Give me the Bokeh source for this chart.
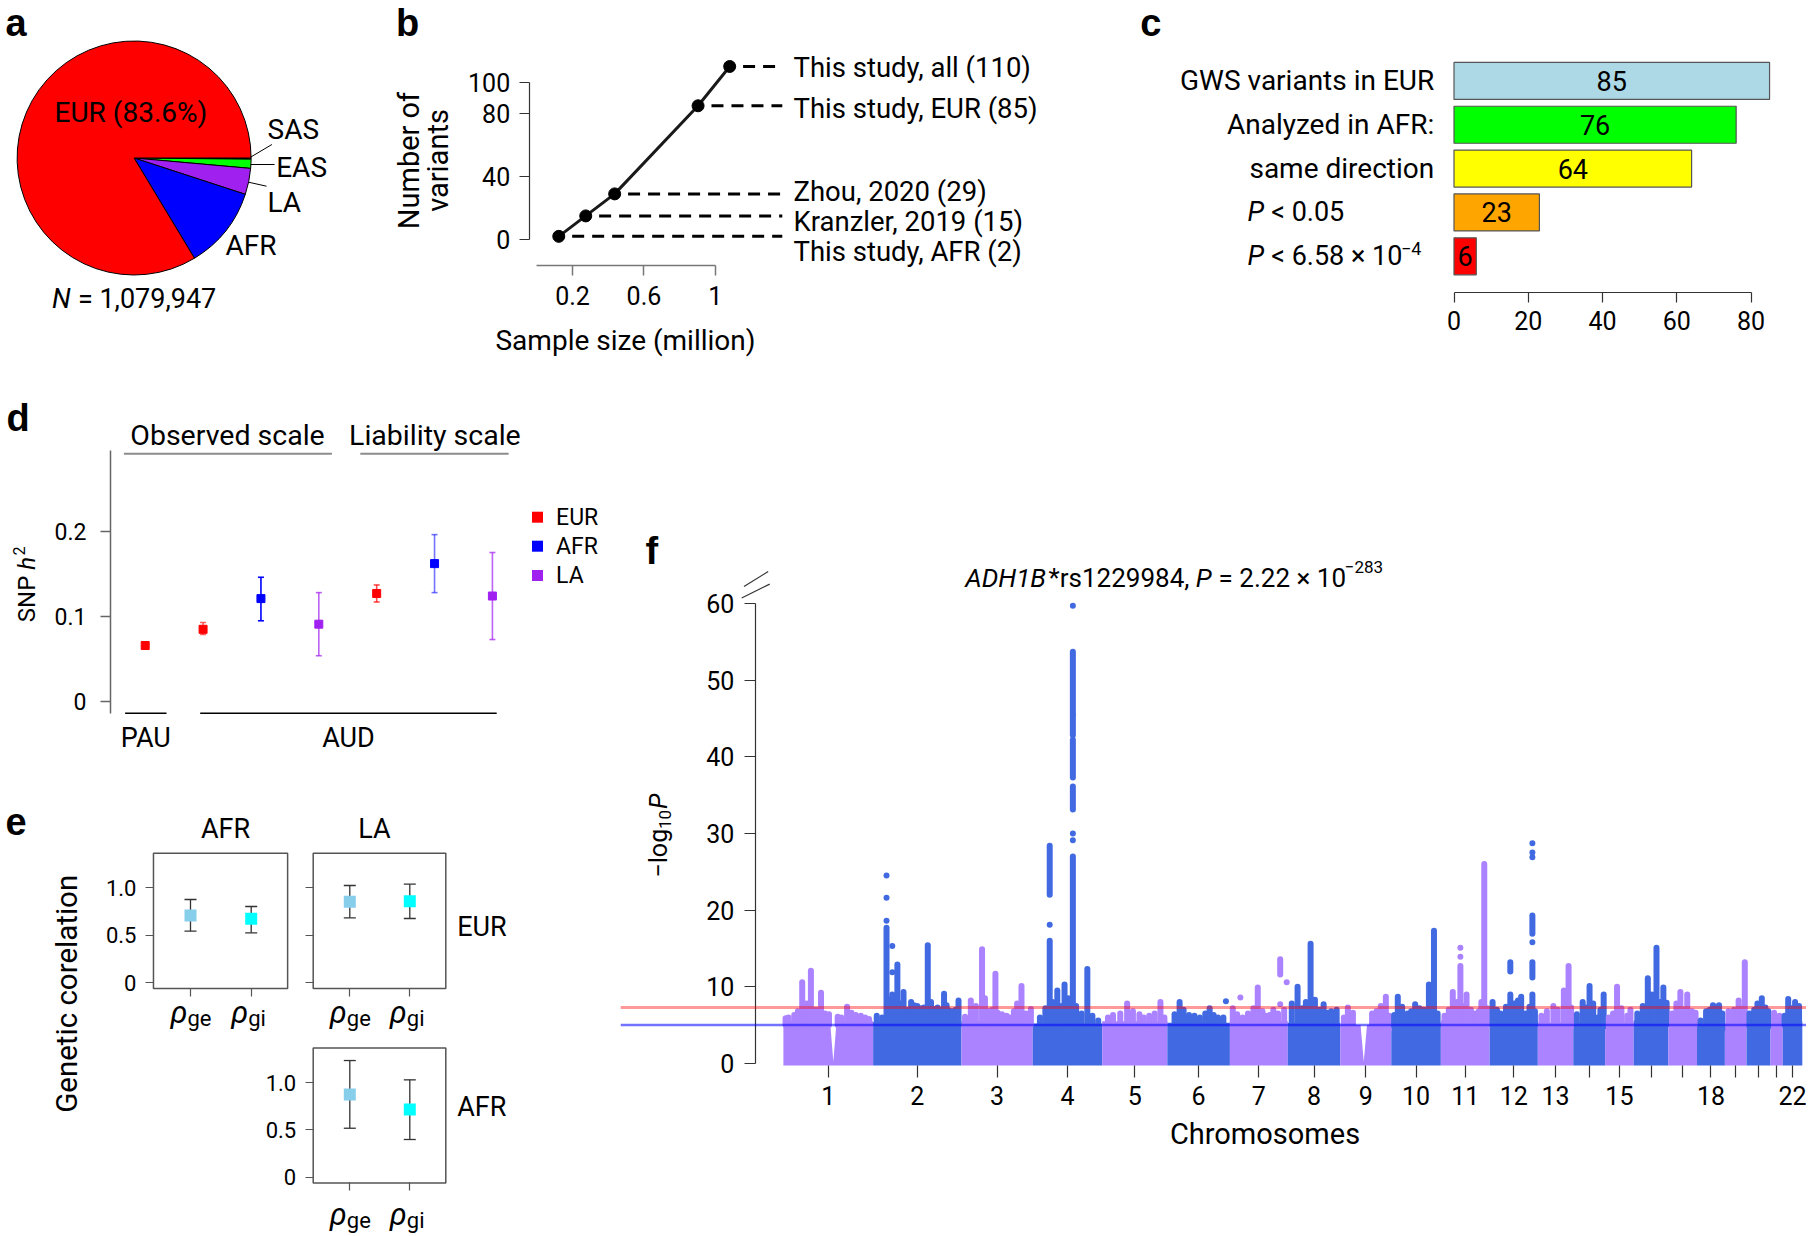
import numpy as np
from bokeh.plotting import figure
from bokeh.models import Range1d, FixedTicker, LinearAxis, Span
from bokeh.layouts import row, column
from bokeh.embed import file_html
from bokeh.resources import INLINE
from bokeh.core.properties import value

FONT = "Roboto"
LFONT = "Liberation Sans"

# ======================= DATA =======================
# (a) sample composition
pie_groups = ["SAS", "EAS", "LA", "AFR", "EUR"]
pie_n = [1716, 13551, 38962, 122571, 903147]
pie_colors = ["#000000", "#00FF00", "#A020F0", "#0000FF", "#FF0000"]

# (b) number of variants vs sample size
b_sample_million = [0.123, 0.274, 0.436, 0.903, 1.080]
b_variants = [2, 15, 29, 85, 110]
b_labels = ["This study, AFR (2)", "Kranzler, 2019 (15)", "Zhou, 2020 (29)",
            "This study, EUR (85)", "This study, all (110)"]
b_xticks = [0.2, 0.6, 1]
b_yticks = [0, 40, 80, 100]

# (c) replication of EUR variants in AFR
c_labels = ["GWS variants in EUR", "Analyzed in AFR:", "same direction"]
c_p_labels = ["< 0.05", "< 6.58 × 10"]
c_p_exponents = ["", "−4"]
c_counts = [85, 76, 64, 23, 6]
c_colors = ["#ADD8E6", "#00FF00", "#FFFF00", "#FFA500", "#FF0000"]
c_xticks = [0, 20, 40, 60, 80]

# (d) SNP heritability
d_trait = ["PAU", "AUD", "AUD", "AUD", "AUD", "AUD", "AUD"]
d_ancestry = ["EUR", "EUR", "AFR", "LA", "EUR", "AFR", "LA"]
d_h2 = [0.066, 0.085, 0.121, 0.091, 0.127, 0.162, 0.124]
d_lo = [0.063, 0.079, 0.095, 0.054, 0.117, 0.128, 0.073]
d_hi = [0.069, 0.093, 0.146, 0.128, 0.137, 0.196, 0.175]
d_yticks = [0, 0.1, 0.2]
anc_colors = {"EUR": "#FF0000", "AFR": "#0000FF", "LA": "#A020F0"}

# (e) genetic correlations (subplots: AFR-EUR, LA-EUR, LA-AFR)
e_pairs = [("AFR", "EUR"), ("LA", "EUR"), ("LA", "AFR")]
e_params = ["ge", "gi"]
e_rg = [[0.708, 0.674], [0.852, 0.859], [0.873, 0.715]]
e_lo = [[0.543, 0.526], [0.684, 0.677], [0.517, 0.398]]
e_hi = [[0.877, 0.803], [1.024, 1.038], [1.232, 1.028]]
e_yticks = [0, 0.5, 1.0]

# (f) Manhattan plot (chromosome spans in Mb, background level, peaks)
chrom_len = [248, 244, 197, 192, 180, 173, 160, 145, 141, 137, 135, 133,
             98, 88, 79, 96, 79, 77, 60, 66, 34, 54]
chrom_floor = [5.5, 5.4, 5.5, 5.2, 5.5, 5.3, 5.5, 5.3, 5.0, 5.3, 5.6,
               5.5, 5.3, 5.3, 5.3, 5.6, 5.6, 5.0, 5.2, 5.3, 5.0, 5.5]
chrom_tick_labels = ["1", "2", "3", "4", "5", "6", "7", "8", "9", "10", "11", "12",
                     "13", "", "15", "", "", "18", "", "", "", "22"]
# dense columns of SNPs: (chromosome, position Mb, top -log10P)
f_columns = [
    (1, 6, 5.9), (1, 14, 6.0), (1, 30, 6.3), (1, 40, 6.8), (1, 52, 10.6), (1, 64, 7.8),
    (1, 76, 12.1), (1, 90, 7.0), (1, 104, 9.2), (1, 115, 6.5), (1, 126, 6.4), (1, 150, 6.1),
    (1, 160, 6.0), (1, 176, 7.4), (1, 188, 6.6), (1, 200, 6.3), (1, 214, 6.2), (1, 226, 6.0),
    (1, 237, 5.8),
    (2, 10, 6.2), (2, 25, 6.0), (2, 37, 17.7), (2, 45, 8.3), (2, 53, 9.0), (2, 67, 12.9),
    (2, 75, 7.8), (2, 84, 9.3), (2, 97, 7.0), (2, 105, 8.0), (2, 113, 7.6), (2, 122, 7.5),
    (2, 130, 7.2), (2, 140, 7.3), (2, 151, 15.4), (2, 160, 8.0), (2, 172, 7.1), (2, 178, 7.3),
    (2, 185, 7.0), (2, 196, 9.1), (2, 203, 7.6), (2, 210, 6.9), (2, 220, 6.8), (2, 228, 7.0),
    (2, 236, 8.2),
    (3, 10, 6.1), (3, 26, 8.2), (3, 40, 7.5), (3, 57, 14.9), (3, 65, 8.5), (3, 75, 6.8),
    (3, 85, 7.0), (3, 94, 11.7), (3, 100, 6.6), (3, 112, 6.4), (3, 125, 6.2), (3, 135, 6.0),
    (3, 145, 6.8), (3, 154, 7.8), (3, 166, 10.1), (3, 178, 6.5), (3, 192, 7.1),
    (4, 20, 6.0), (4, 35, 7.2), (4, 47, 16.0), (4, 55, 8.0), (4, 68, 9.5), (4, 78, 7.5),
    (4, 88, 10.3), (4, 98, 8.5), (4, 111, 27.0), (4, 120, 7.5), (4, 135, 6.5), (4, 151, 12.3),
    (4, 165, 6.2), (4, 181, 5.6),
    (5, 16, 6.0), (5, 30, 6.3), (5, 50, 6.5), (5, 69, 7.8), (5, 85, 6.8), (5, 103, 6.4),
    (5, 115, 6.0), (5, 130, 6.2), (5, 145, 6.5), (5, 161, 8.0), (5, 172, 6.0),
    (6, 20, 6.4), (6, 34, 8.0), (6, 45, 7.0), (6, 60, 6.3), (6, 75, 6.2), (6, 90, 6.0),
    (6, 105, 6.5), (6, 117, 7.2), (6, 128, 6.3), (6, 140, 6.0), (6, 155, 6.0),
    (7, 8, 7.2), (7, 20, 6.4), (7, 35, 6.0), (7, 50, 6.5), (7, 65, 7.2), (7, 77, 9.9),
    (7, 90, 6.8), (7, 100, 6.2), (7, 110, 6.3), (7, 120, 7.0), (7, 133, 6.5), (7, 150, 7.0),
    (8, 11, 7.8), (8, 27, 10.0), (8, 40, 7.2), (8, 50, 8.0), (8, 63, 15.6), (8, 75, 8.3),
    (8, 88, 7.0), (8, 99, 7.7), (8, 110, 6.6), (8, 120, 6.8), (8, 135, 7.0),
    (9, 10, 6.0), (9, 21, 7.3), (9, 35, 6.6), (9, 88, 6.5), (9, 100, 6.8), (9, 112, 7.5),
    (9, 126, 8.7), (9, 135, 6.2),
    (10, 8, 6.3), (10, 18, 8.7), (10, 30, 7.4), (10, 45, 6.5), (10, 55, 6.8), (10, 66, 7.7),
    (10, 78, 7.2), (10, 90, 7.0), (10, 104, 10.3), (10, 110, 8.0), (10, 118, 17.3),
    (10, 128, 6.5),
    (11, 10, 6.2), (11, 22, 7.0), (11, 33, 9.3), (11, 45, 8.0), (11, 54, 12.7), (11, 62, 7.5),
    (11, 71, 9.0), (11, 83, 7.0), (11, 95, 6.5), (11, 105, 6.8), (11, 112, 8.0),
    (11, 120, 26.0), (11, 128, 7.2),
    (12, 8, 8.0), (12, 20, 7.0), (12, 30, 6.5), (12, 45, 7.4), (12, 57, 9.0), (12, 68, 7.8),
    (12, 78, 8.2), (12, 87, 8.7), (12, 100, 6.5), (12, 110, 7.4), (12, 118, 7.0),
    (12, 125, 6.8),
    (13, 10, 6.2), (13, 25, 6.8), (13, 43, 7.5), (13, 55, 7.0), (13, 72, 9.5), (13, 85, 12.7),
    (13, 92, 7.3),
    (14, 10, 6.4), (14, 26, 8.0), (14, 35, 7.3), (14, 45, 10.1), (14, 55, 7.8), (14, 67, 6.0),
    (14, 75, 7.0), (14, 84, 9.0),
    (15, 10, 6.0), (15, 22, 6.5), (15, 33, 10.0), (15, 45, 7.2), (15, 61, 6.2), (15, 70, 7.0),
    (16, 10, 6.5), (16, 25, 7.5), (16, 39, 11.1), (16, 50, 9.0), (16, 63, 15.1), (16, 72, 8.0),
    (16, 82, 9.9), (16, 91, 7.9),
    (17, 10, 6.5), (17, 22, 7.8), (17, 33, 9.3), (17, 42, 7.0), (17, 52, 9.0), (17, 65, 6.8),
    (17, 75, 6.6),
    (18, 10, 5.6), (18, 25, 6.8), (18, 35, 7.0), (18, 44, 7.6), (18, 52, 7.4), (18, 61, 7.6),
    (18, 70, 6.5),
    (19, 10, 6.8), (19, 25, 7.0), (19, 38, 8.2), (19, 48, 7.2), (19, 55, 13.2),
    (20, 8, 6.5), (20, 21, 7.0), (20, 30, 7.8), (20, 42, 8.5), (20, 52, 7.3), (20, 60, 6.8),
    (21, 10, 6.6), (21, 18, 6.0), (21, 25, 6.2),
    (22, 5, 6.2), (22, 15, 8.4), (22, 25, 7.2), (22, 34, 8.0), (22, 45, 7.5),
]
# floating dense runs: (chromosome, position Mb, low, high)
f_runs = [
    (4, 47, 22.0, 28.4), (4, 111, 33.1, 36.1), (4, 111, 37.3, 42.2), (4, 111, 42.8, 45.4),
    (4, 111, 45.6, 53.7), (7, 139, 11.6, 13.6), (12, 57, 12.0, 13.2), (12, 118, 16.9, 19.3),
    (12, 118, 11.2, 13.2), (12, 118, 7.3, 9.0),
]
# isolated points: (chromosome, position Mb, -log10P)
f_dots = [
    (2, 37, 18.6), (2, 37, 21.6), (2, 37, 24.5), (2, 53, 11.9), (2, 53, 15.3),
    (4, 47, 18.1), (4, 111, 29.1), (4, 111, 30.0), (4, 111, 59.7),
    (6, 162, 8.1), (7, 29, 8.6), (7, 157, 10.6), (7, 139, 7.7), (10, 104, 9.0),
    (11, 54, 13.9), (11, 54, 15.1), (12, 118, 15.8), (12, 118, 26.9), (12, 118, 27.5),
    (12, 118, 28.7),
]
# gaps (centromere dips): (chromosome, position Mb)
f_gaps = [(1, 138), (9, 65)]
f_yticks = [0, 10, 20, 30, 40, 50, 60]
gws_threshold = 5e-8
suggestive_threshold = 1e-5
PURPLE, BLUE = "#AB82FF", "#4169E1"


# ======================= HELPERS =======================
class Map:
    """Linear map from page pixels to data units for a figure covering a page box."""
    def __init__(s, px, py, w, h, x0=0.0, xp=1.0, y0=0.0, yp=1.0):
        s.px, s.py, s.w, s.h = px, py, w, h
        s.x0, s.xp, s.y0, s.yp = x0, xp, y0, yp

    def X(s, gx):
        return (gx - s.x0) / s.xp

    def Y(s, gy):
        return (s.y0 - gy) / s.yp

    def xr(s):
        return Range1d(s.X(s.px), s.X(s.px + s.w))

    def yr(s):
        return Range1d(s.Y(s.py + s.h), s.Y(s.py))


def make_fig(M):
    p = figure(width=M.w, height=M.h, x_range=M.xr(), y_range=M.yr(), title=None,
               x_axis_type=None, y_axis_type=None, output_backend="svg",
               toolbar_location=None, min_border_left=0, min_border_right=0,
               min_border_top=0, min_border_bottom=0)
    p.outline_line_color = None
    p.background_fill_color = "white"
    p.border_fill_color = "white"
    return p


RW = {" ": 0.248, "*": 0.431, ",": 0.196, ".": 0.263, "=": 0.549, "×": 0.444, "<": 0.508,
      "−": 0.568, "A": 0.652, "B": 0.622, "D": 0.656, "H": 0.713, "P": 0.631, "N": 0.713,
      "S": 0.594, "r": 0.338, "s": 0.516, "l": 0.242, "o": 0.569, "g": 0.56, "h": 0.551}


def tw(s, size):
    """approximate rendered width (px) of a string in Roboto"""
    return size * sum(RW.get(c, 0.562 if c.isdigit() else 0.55) for c in s)


def txt(p, x, y, t, size=28, align="left", baseline="middle", style="normal", angle=0.0,
        font=FONT, color="black", **kw):
    p.text(x=x, y=y, text=t, text_font=value(font), text_font_size=f"{size}px",
           text_align=align, text_baseline=baseline, text_font_style=style, angle=angle,
           text_color=color, **kw)


LETTER_RAISE = 11


def letter(p, M, gx, gy, t):
    txt(p, [M.X(gx)], [M.Y(gy - LETTER_RAISE)], [t], size=38, baseline="alphabetic",
        style="bold", font=LFONT)


def add_axis(p, side, ticks, loc, bounds=None, overrides=None, size=25, tick_out=10,
             standoff=9, line_color="#333333", line_w=1.2, show_line=True, **names):
    ax = LinearAxis(ticker=FixedTicker(ticks=ticks), fixed_location=loc, **names)
    if bounds is not None:
        ax.bounds = bounds
    if overrides is not None:
        ax.major_label_overrides = overrides
    ax.major_tick_out = tick_out
    ax.major_tick_in = 0
    ax.minor_tick_out = 0
    ax.minor_tick_in = 0
    ax.major_label_standoff = standoff
    ax.major_label_text_font = FONT
    ax.major_label_text_font_size = f"{size}px"
    ax.major_label_text_color = "black"
    ax.axis_line_color = line_color if show_line else None
    ax.major_tick_line_color = line_color
    ax.axis_line_width = line_w
    ax.major_tick_line_width = line_w
    p.add_layout(ax, side)
    return ax


# ======================= (a) =======================
Fa = Map(0, 0, 380, 370)
pa = make_fig(Fa)
frac = np.array(pie_n, float) / sum(pie_n)
cum = np.cumsum(frac)
pa.wedge(x=Fa.X(133.6), y=Fa.Y(157.5), radius=117,
         start_angle=list(-2 * np.pi * cum), end_angle=list(-2 * np.pi * (cum - frac)),
         direction="anticlock", fill_color=pie_colors, line_color="black", line_width=1)
eur_pct = 100 * pie_n[4] / sum(pie_n)
txt(pa, [Fa.X(130.4)], [Fa.Y(111.7)], [f"EUR ({eur_pct:.1f}%)"], align="center")
side_pos = {"SAS": (267, 129), "EAS": (275.7, 166.7), "LA": (267, 201.7), "AFR": (225, 245)}
txt(pa, [Fa.X(side_pos[g][0]) for g in pie_groups[:4]],
    [Fa.Y(side_pos[g][1]) for g in pie_groups[:4]], pie_groups[:4])
pa.segment(x0=[Fa.X(250), Fa.X(250), Fa.X(248)], y0=[Fa.Y(156.7), Fa.Y(164), Fa.Y(181.7)],
           x1=[Fa.X(271.4), Fa.X(274), Fa.X(266)], y1=[Fa.Y(144), Fa.Y(164), Fa.Y(185.7)],
           line_color="black", line_width=1)
n_rest = f"= {sum(pie_n):,}"
n_w = tw("N " + n_rest, 27)
n_left = 133.6 - n_w / 2
txt(pa, [Fa.X(n_left)], [Fa.Y(298)], ["N"], size=27, style="italic")
txt(pa, [Fa.X(n_left + tw("N ", 27))], [Fa.Y(298)], [n_rest], size=27)
letter(pa, Fa, 5, 33, "a")

# ======================= (b) =======================
Fb = Map(380, 0, 730, 370, 536.3, 178.6, 239, 1.573)
pb = make_fig(Fb)
add_axis(pb, "left", b_yticks, Fb.X(528.7), bounds=(0, 100), size=25, tick_out=10, standoff=9)
add_axis(pb, "below", b_xticks, Fb.Y(265), bounds=(0, 1), size=25, tick_out=10, standoff=10,
         overrides={0.2: "0.2", 0.6: "0.6", 1: "1"}, line_color="#777777", line_w=1.5)
pb.line(b_sample_million, b_variants, line_color="#1a1a1a", line_width=3)
pb.scatter(b_sample_million, b_variants, size=12, color="black")
dash_end = Fb.X(781.8)
pb.segment(x0=[s + 0.075 for s in b_sample_million], y0=b_variants,
           x1=[dash_end] * 5, y1=b_variants, line_color="black", line_width=3, line_dash="12 8")
b_label_shift_px = [15, 6, -2, 3, 1]   # screen px downward, avoids overlapping labels
txt(pb, [Fb.X(793)] * 5, [v - d / Fb.yp for v, d in zip(b_variants, b_label_shift_px)],
    b_labels, size=27.5)
txt(pb, [Fb.X(408), Fb.X(437)], [Fb.Y(160)] * 2, ["Number of", "variants"], size=29,
    align="center", angle=np.pi / 2)
txt(pb, [Fb.X(625)], [Fb.Y(340)], ["Sample size (million)"], align="center")
letter(pb, Fb, 395.6, 33, "b")

# ======================= (c) =======================
Fc = Map(1110, 0, 696, 370, 1453.5, 3.7125, 255.8, 43.85)
pc = make_fig(Fc)
c_y = [4, 3, 2, 1, 0]
pc.hbar(y=c_y, left=0, right=c_counts, height=0.843, fill_color=c_colors,
        line_color="#555555", line_width=1.2)
txt(pc, [v / 2 for v in c_counts], c_y, [str(v) for v in c_counts], size=27, align="center")
txt(pc, [Fc.X(1433.7)] * 3, c_y[:3], c_labels, align="right")
p_x = 1247
txt(pc, [Fc.X(p_x)] * 2, c_y[3:], ["P", "P"], size=27, style="italic")
rest_x = p_x + tw("P ", 27)
txt(pc, [Fc.X(rest_x)] * 2, c_y[3:], c_p_labels, size=27)
txt(pc, [Fc.X(rest_x + tw(c_p_labels[1], 27) + 1)], [Fc.Y(248)], [c_p_exponents[1]], size=18)
add_axis(pc, "below", c_xticks, Fc.Y(291.7), bounds=(0, 80), size=25, tick_out=10, standoff=9)
letter(pc, Fc, 1139.7, 33, "c")

# ======================= (d) =======================
Fd = Map(0, 370, 620, 400, 86.83, 57.87, 701.3, 853)
pd_ = make_fig(Fd)
add_axis(pd_, "left", d_yticks, Fd.X(110), bounds=(Fd.Y(713.3), Fd.Y(450)),
         overrides={0: "0", 0.1: "0.1", 0.2: "0.2"}, size=23, tick_out=10, standoff=14,
         line_color="#666666", line_w=1.5)
d_x = list(range(1, len(d_h2) + 1))
d_cols = [anc_colors[a] for a in d_ancestry]
d_bar_alpha = [0.6, 0.6, 1.0, 0.7, 0.7, 0.55, 0.7]
pd_.segment(x0=d_x, y0=d_lo, x1=d_x, y1=d_hi, line_color=d_cols, line_alpha=d_bar_alpha,
            line_width=1.6)
pd_.scatter(d_x + d_x, d_lo + d_hi, marker="dash", size=6, line_color=d_cols + d_cols,
            line_alpha=d_bar_alpha + d_bar_alpha, line_width=1.6)
pd_.scatter(d_x, d_h2, marker="square", size=8, fill_color=d_cols, line_color=d_cols)
txt(pd_, [Fd.X(227), Fd.X(434.4)], [Fd.Y(435)] * 2, ["Observed scale", "Liability scale"],
    size=28.5, align="center")
pd_.segment(x0=[Fd.X(123.4), Fd.X(359.8)], y0=[Fd.Y(453.3)] * 2,
            x1=[Fd.X(331.4), Fd.X(508.1)], y1=[Fd.Y(453.3)] * 2, line_color="#8c8c8c",
            line_width=2)
pd_.segment(x0=[Fd.X(124.6), Fd.X(199.7)], y0=[Fd.Y(712.7)] * 2,
            x1=[Fd.X(166), Fd.X(496.2)], y1=[Fd.Y(712.7)] * 2, line_color="black",
            line_width=1.5)
txt(pd_, [Fd.X(145.3), Fd.X(348)], [Fd.Y(737.7)] * 2, [d_trait[0], d_trait[1]], size=27,
    align="center")
leg = ["EUR", "AFR", "LA"]
leg_y = [Fd.Y(516.7), Fd.Y(545.7), Fd.Y(575)]
pd_.scatter([Fd.X(537)] * 3, leg_y, marker="square", size=11,
            fill_color=[anc_colors[a] for a in leg], line_color=None)
txt(pd_, [Fd.X(555.6)] * 3, leg_y, leg, size=23)
snp_start = 621.7
txt(pd_, [Fd.X(26.7)], [Fd.Y(snp_start)], ["SNP"], size=24, angle=np.pi / 2)
h_start = snp_start - tw("SNP ", 24)
txt(pd_, [Fd.X(26.7)], [Fd.Y(h_start)], ["h"], size=24, angle=np.pi / 2, style="italic")
txt(pd_, [Fd.X(18)], [Fd.Y(h_start - tw("h", 24) - 1)], ["2"], size=16, angle=np.pi / 2)
letter(pd_, Fd, 6, 428, "d")

# ======================= (e) =======================
Fe = Map(0, 770, 620, 464)
pe = make_fig(Fe)
E1 = Map(0, 770, 620, 464, 129.3, 60.7, 982.3, 95)
E2 = Map(0, 770, 620, 464, 289.3, 60.0, 982.3, 95)
E3 = Map(0, 770, 620, 464, 289.3, 60.0, 1176.7, 94.7)
pe.extra_x_ranges = {"x1": E1.xr(), "x2": E2.xr()}
pe.extra_y_ranges = {"y12": E1.yr(), "y3": E3.yr()}
letter(pe, Fe, 5, 832, "e")
txt(pe, [Fe.X(66.7)], [Fe.Y(993.3)], ["Genetic corelation"], size=29.5, align="center",
    angle=np.pi / 2)
sub_maps = [(E1, "x1", "y12", 24), (E2, "x2", "y12", 24), (E3, "x2", "y3", 32)]
box_x, box_y = (0.39, 2.6), (-0.06, 1.365)
for k, (M, xn, yn, lab_off) in enumerate(sub_maps):
    names = dict(x_range_name=xn, y_range_name=yn)
    pe.quad(left=[box_x[0]], right=[box_x[1]], bottom=[box_y[0]], top=[box_y[1]],
            fill_color=None, line_color="#555555", line_width=1.5, **names)
    show_y = k != 1
    add_axis(pe, "left", e_yticks, box_x[0],
             overrides={0: "0", 0.5: "0.5", 1: "1.0"} if show_y else {0: "", 0.5: "", 1: ""},
             size=22, tick_out=8, standoff=9, line_color="#555555", show_line=False, **names)
    add_axis(pe, "below", [1, 2], box_y[0], overrides={1: "", 2: ""}, size=22, tick_out=8,
             standoff=0, line_color="#555555", show_line=False, **names)
    xs = [1, 2]
    pe.segment(x0=xs, y0=e_lo[k], x1=xs, y1=e_hi[k], line_color="#333333", line_width=1.3,
               **names)
    pe.scatter(xs + xs, e_lo[k] + e_hi[k], marker="dash", size=12, line_color="#333333",
               line_width=1.3, **names)
    pe.scatter(xs, e_rg[k], marker="square", size=12, fill_color=["#87CEEB", "#00FFFF"],
               line_color=None, **names)
    frame_bottom = M.y0 - box_y[0] * M.yp  # page y of box bottom
    txt(pe, xs, [M.Y(frame_bottom + lab_off)] * 2, ["ρ", "ρ"], size=31, style="italic",
        align="right", baseline="alphabetic", x_offset=-3, **names)
    txt(pe, xs, [M.Y(frame_bottom + lab_off + 6)] * 2, e_params, size=22, align="left",
        baseline="alphabetic", x_offset=-3, **names)
txt(pe, [Fe.X(225), Fe.X(374)], [Fe.Y(828.3)] * 2, [e_pairs[0][0], e_pairs[1][0]], size=27,
    align="center")
txt(pe, [Fe.X(456.7), Fe.X(456.7)], [Fe.Y(926.7), Fe.Y(1106.7)],
    [e_pairs[1][1], e_pairs[2][1]], size=27)

# ======================= (f) =======================
Ff = Map(620, 370, 1186, 864, 782.9, 0.36183, 1062.9, 7.667)
pf = make_fig(Ff)
starts = np.concatenate([[0], np.cumsum(chrom_len)[:-1]])
ends = np.cumsum(chrom_len)
mids = starts + np.array(chrom_len) / 2.0
ccol = [PURPLE if i % 2 == 0 else BLUE for i in range(len(chrom_len))]
pf.quad(left=starts, right=ends, bottom=Ff.Y(1065), top=chrom_floor, fill_color=ccol,
        line_color=None)
gap_half = 10
pf.patches(xs=[[starts[c - 1] + pos - gap_half, starts[c - 1] + pos,
                starts[c - 1] + pos + gap_half] for c, pos in f_gaps],
           ys=[[chrom_floor[c - 1] + 0.6, 0.2, chrom_floor[c - 1] + 0.6] for c, pos in f_gaps],
           fill_color="white", line_color=None)
pf.segment(x0=[starts[c - 1] + pos for c, pos, t in f_columns],
           y0=[chrom_floor[c - 1] - 0.5 for c, pos, t in f_columns],
           x1=[starts[c - 1] + pos for c, pos, t in f_columns],
           y1=[t for c, pos, t in f_columns],
           line_color=[ccol[c - 1] for c, pos, t in f_columns], line_width=6, line_cap="round")
pf.segment(x0=[starts[c - 1] + pos for c, pos, lo, hi in f_runs],
           y0=[lo for c, pos, lo, hi in f_runs],
           x1=[starts[c - 1] + pos for c, pos, lo, hi in f_runs],
           y1=[hi for c, pos, lo, hi in f_runs],
           line_color=[ccol[c - 1] for c, pos, lo, hi in f_runs], line_width=6, line_cap="round")
pf.scatter([starts[c - 1] + pos for c, pos, v in f_dots], [v for c, pos, v in f_dots],
           size=6, fill_color=[ccol[c - 1] for c, pos, v in f_dots], line_color=None)
pf.add_layout(Span(location=-np.log10(gws_threshold), dimension="width", line_color="#FF0000",
                   line_alpha=0.4, line_width=3))
pf.add_layout(Span(location=-np.log10(suggestive_threshold), dimension="width",
                   line_color="#0000FF", line_alpha=0.55, line_width=2.5))
# cover the part of the threshold lines left of the y axis
pf.quad(left=[Ff.X(620)], right=[Ff.X(753.5)], bottom=[Ff.Y(1020)], top=[Ff.Y(1000)],
        fill_color="white", line_color=None)
add_axis(pf, "left", f_yticks, Ff.X(754.8), bounds=(0, 60), size=25, tick_out=11, standoff=10)
mid_list = [float(m) for m in mids]
add_axis(pf, "below", mid_list, Ff.Y(1065),
         overrides={m: l for m, l in zip(mid_list, chrom_tick_labels)}, size=25, tick_out=12,
         standoff=8, show_line=False)
txt(pf, [Ff.X(1264.5)], [Ff.Y(1133.3)], ["Chromosomes"], size=29, align="center")
# axis break marks
pf.segment(x0=[Ff.X(743.5), Ff.X(741.2)], y0=[Ff.Y(586), Ff.Y(597.5)],
           x1=[Ff.X(767.7), Ff.X(769.2)], y1=[Ff.Y(571), Ff.Y(583.6)],
           line_color="#333333", line_width=1.2)
# title pieces (italic gene / P, superscript exponent); gaps replace collapsed spaces
TS = 26
tx = 964.7
pieces = [("ADH1B", "italic", 0), ("*rs1229984,", "normal", tw(" ", TS)),
          ("P", "italic", tw(" ", TS)), ("= 2.22 × 10", "normal", 1)]
for t, st, gap in pieces:
    txt(pf, [Ff.X(tx)], [Ff.Y(577)], [t], size=TS, style=st)
    tx += tw(t, TS) + gap
txt(pf, [Ff.X(tx)], [Ff.Y(566)], ["−283"], size=17)
# y axis label pieces
yl0 = 877
txt(pf, [Ff.X(657.9)], [Ff.Y(yl0)], ["−log"], size=25, angle=np.pi / 2)
yl1 = yl0 - tw("−log", 25)
txt(pf, [Ff.X(664.5)], [Ff.Y(yl1)], ["10"], size=17, angle=np.pi / 2)
yl2 = yl1 - tw("10", 17) - 1
txt(pf, [Ff.X(657.9)], [Ff.Y(yl2)], ["P"], size=25, angle=np.pi / 2, style="italic")
letter(pf, Ff, 645, 561, "f")

# ======================= LAYOUT =======================
root = column(row(pa, pb, pc), row(column(pd_, pe), pf))
open("out.html", "w").write(file_html(root, INLINE))
